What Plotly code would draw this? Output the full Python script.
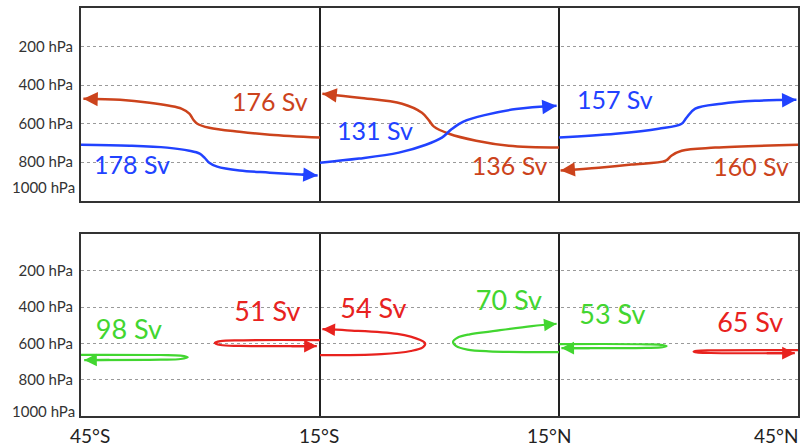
import plotly.graph_objects as go

# ---------------- data ----------------
RED_T = "#cc431c"
BLUE = "#2142ff"
RED_B = "#e8221e"
GREEN = "#42d630"

p_ticks = [200, 400, 600, 800]
p_ticktext = ["200 hPa", "400 hPa", "600 hPa", "800 hPa"]
lat_dividers = [-15, 15]
lat_label_pos = [-43.9, -15.1, 13.8, 42.2]
lat_labels = ["45°S", "15°S", "15°N", "45°N"]

# top panel streams (tail -> tip)
tl_red_lon = [-15.0, -21.3, -25.1, -28.9, -30.4, -30.9, -31.4, -32.4, -33.9, -36.4, -40.1, -44.7]
tl_red_p = [673, 658, 643, 622, 601, 580, 549, 523, 508, 492, 477, 471]
tl_blue_lon = [-45.0, -38.9, -34.2, -31.4, -30.1, -29.5, -28.9, -27.9, -25.1, -21.3, -15.3]
tl_blue_p = [710, 715, 725, 741, 756, 777, 803, 824, 844, 855, 870]
tm_red_lon = [15.0, 8.7, 4.6, 1.2, -0.7, -1.3, -2.2, -4.7, -10.1, -14.7]
tm_red_p = [725, 715, 689, 653, 616, 585, 544, 497, 466, 445]
tm_blue_lon = [-15.0, -10.1, -5.1, -1.7, 0.3, 1.5, 3.0, 5.8, 9.6, 14.7]
tm_blue_p = [803, 782, 751, 710, 673, 630, 590, 555, 525, 508]
tr_blue_lon = [15.0, 22.1, 27.5, 30.4, 31.0, 32.1, 35.4, 39.6, 44.8]
tr_blue_p = [673, 653, 627, 601, 570, 523, 497, 482, 477]
tr_red_lon = [45.0, 34.6, 30.4, 29.1, 28.4, 24.1, 20.0, 15.2]
tr_red_p = [710, 725, 741, 767, 793, 813, 829, 844]

# bottom panel cells (tail -> tip)
bl_green_lon = [-45.0, -35.0, -32.5, -31.6, -32.5, -35.0, -44.6]
bl_green_p = [663, 664, 667, 676, 686, 690, 692]
bl_red_lon = [-15.0, -25.0, -27.5, -28.2, -27.5, -25.0, -15.4]
bl_red_p = [582, 583, 588, 598, 609, 614, 615]
bm_red_lon = [-15.0, -7.3, -3.6, -2.1, -1.8, -2.4, -5.3, -11.6, -14.7]
bm_red_p = [665, 659, 642, 622, 600, 582, 548, 528, 522]
bm_green_lon = [15.0, 11.6, 6.2, 3.5, 2.1, 1.7, 2.3, 3.8, 6.5, 11.6, 14.7]
bm_green_p = [648, 648, 644, 634, 615, 592, 568, 550, 534, 505, 492]
br_green_lon = [15.0, 26.0, 28.0, 28.5, 28.0, 26.0, 15.3]
br_green_p = [604, 605, 609, 615, 621, 625, 626]
br_red_lon = [45.0, 34.0, 32.3, 31.9, 32.3, 34.0, 44.6]
br_red_p = [637, 638, 641, 645, 650, 653, 654]

top_labels = ["176 Sv", "178 Sv", "131 Sv", "136 Sv", "157 Sv", "160 Sv"]
top_label_lon = [-21.3, -38.6, -8.1, 8.8, 22.0, 39.1]
top_label_p = [502, 829, 653, 834, 492, 839]
top_label_col = [RED_T, BLUE, BLUE, RED_T, BLUE, RED_T]

bot_labels = ["98 Sv", "51 Sv", "54 Sv", "70 Sv", "53 Sv", "65 Sv"]
bot_label_lon = [-39.0, -21.6, -8.3, 8.7, 21.7, 39.0]
bot_label_p = [539, 440, 423, 379, 456, 500]
bot_label_col = [GREEN, RED_B, RED_B, GREEN, GREEN, RED_B]

# ---------------- figure ----------------
fig = go.Figure()
annotations = []

def stream(lon, p, color, xa, ya, width=2.5):
    fig.add_trace(go.Scatter(x=lon, y=p, mode="lines", xaxis=xa, yaxis=ya,
                             line=dict(color=color, width=width, shape="spline", smoothing=1.0),
                             hoverinfo="skip", showlegend=False))
    tx, ty = lon[-1], p[-1]
    px_, py_ = lon[-2], p[-2]
    annotations.append(dict(x=tx, y=ty, ax=tx + 0.35 * (px_ - tx), ay=ty + 0.35 * (py_ - ty),
                            xref=xa, yref=ya, axref=xa, ayref=ya, text="", showarrow=True,
                            arrowhead=2, arrowsize=1.15, arrowwidth=width, arrowcolor=color,
                            standoff=0))

for lon, p, c in [(tl_red_lon, tl_red_p, RED_T), (tl_blue_lon, tl_blue_p, BLUE),
                  (tm_red_lon, tm_red_p, RED_T), (tm_blue_lon, tm_blue_p, BLUE),
                  (tr_blue_lon, tr_blue_p, BLUE), (tr_red_lon, tr_red_p, RED_T)]:
    stream(lon, p, c, "x", "y")

for lon, p, c in [(bl_green_lon, bl_green_p, GREEN), (bl_red_lon, bl_red_p, RED_B),
                  (bm_red_lon, bm_red_p, RED_B), (bm_green_lon, bm_green_p, GREEN),
                  (br_green_lon, br_green_p, GREEN), (br_red_lon, br_red_p, RED_B)]:
    stream(lon, p, c, "x2", "y2", width=2.2)

fig.add_trace(go.Scatter(x=top_label_lon, y=top_label_p, mode="text", text=top_labels,
                         textfont=dict(family="Lato", size=25, color=top_label_col),
                         xaxis="x", yaxis="y", hoverinfo="skip", showlegend=False))
fig.add_trace(go.Scatter(x=bot_label_lon, y=bot_label_p, mode="text", text=bot_labels,
                         textfont=dict(family="Lato", size=27, color=bot_label_col),
                         xaxis="x2", yaxis="y2", hoverinfo="skip", showlegend=False))

# 1000 hPa labels at the bottom of each panel
for yr, yv in [("y", 927), ("y2", 973)]:
    annotations.append(dict(x=0, xref="paper", xanchor="right", xshift=-4, y=yv, yref=yr,
                            text="1000 hPa", showarrow=False,
                            font=dict(family="Lato", size=15, color="#333")))
# latitude labels
for pos, lab in zip(lat_label_pos, lat_labels):
    annotations.append(dict(x=pos, xref="x2", y=-0.048, yref="paper", yanchor="middle",
                            text=lab, showarrow=False, borderpad=0,
                            font=dict(family="Lato", size=19, color="#222")))

xcommon = dict(range=[-45, 45], tickvals=lat_dividers, showticklabels=False, ticks="",
               showgrid=True, gridcolor="#222", gridwidth=2, zeroline=False,
               showline=True, mirror=True, linecolor="#333", linewidth=2, fixedrange=True)
ycommon = dict(range=[1000, 0], tickvals=p_ticks, ticktext=p_ticktext, ticks="",
               ticklabelstandoff=3, showgrid=True, gridcolor="#9a9a9a", gridwidth=1,
               griddash="dot", zeroline=False, showline=True, mirror=True,
               linecolor="#333", linewidth=2,
               tickfont=dict(family="Lato", size=15, color="#333"), fixedrange=True)

fig.update_layout(
    width=806, height=448,
    margin=dict(l=81, r=6, t=7, b=32),
    paper_bgcolor="white", plot_bgcolor="white",
    xaxis=dict(anchor="y", **xcommon),
    yaxis=dict(domain=[0.528, 1.0], anchor="x", **ycommon),
    xaxis2=dict(anchor="y2", **xcommon),
    yaxis2=dict(domain=[0.0, 0.445], anchor="x2", **ycommon),
    annotations=annotations,
    showlegend=False,
)

fig.write_html("out.html")
